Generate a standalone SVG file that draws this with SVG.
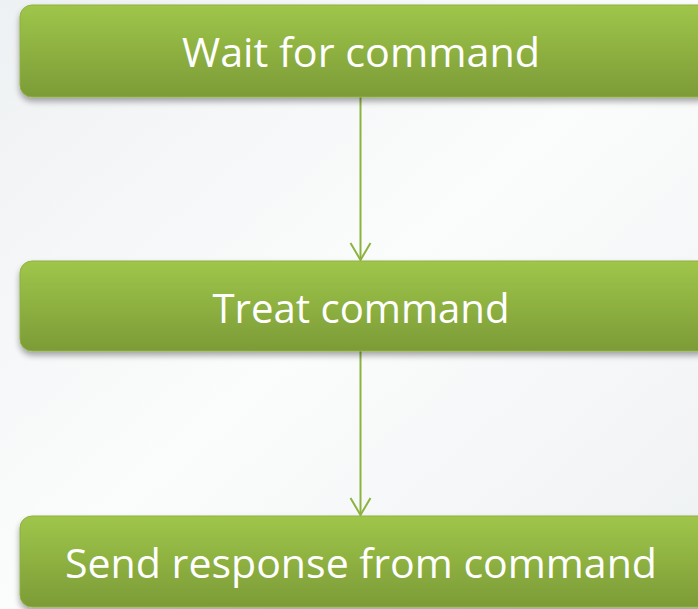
<svg xmlns="http://www.w3.org/2000/svg" width="698" height="609" viewBox="0 0 698 609">
<defs>
<linearGradient id="bg" x1="0" y1="0" x2="1" y2="1">
<stop offset="0" stop-color="#eef1f3"/>
<stop offset="0.5" stop-color="#fbfcfc"/>
<stop offset="1" stop-color="#eef1f3"/>
</linearGradient>
<linearGradient id="g" x1="0" y1="0" x2="0" y2="1">
<stop offset="0" stop-color="#9fc64a"/>
<stop offset="1" stop-color="#7c9b37"/>
</linearGradient>
<filter id="sh" x="-5%" y="-20%" width="110%" height="150%">
<feGaussianBlur in="SourceAlpha" stdDeviation="3"/>
<feOffset dx="0" dy="4" result="b"/>
<feComponentTransfer><feFuncA type="linear" slope="0.35"/></feComponentTransfer>
<feMerge><feMergeNode/><feMergeNode in="SourceGraphic"/></feMerge>
</filter>
</defs>
<style>
.box{fill:url(#g);stroke:#8fb040;stroke-width:1;filter:url(#sh)}
.lbl{font-family:"Open Sans","Liberation Sans",Arial,sans-serif;font-size:41px;fill:#ffffff;text-anchor:middle}
.con{stroke:#8db33f;stroke-width:2;fill:none}
</style>
<rect width="698" height="609" fill="url(#bg)"/>
<g id="connectors">
<path class="con" d="M360.5 97 V260"/>
<path class="con" d="M350.5 243 L360.5 260 L370.5 243"/>
<path class="con" d="M360.5 351 V515"/>
<path class="con" d="M350.5 498 L360.5 515 L370.5 498"/>
</g>
<g id="n1">
<rect class="box" x="20" y="5" width="690" height="92" rx="12"/>
<text class="lbl" x="361" y="67" textLength="358" lengthAdjust="spacingAndGlyphs">Wait for command</text>
</g>
<g id="n2">
<rect class="box" x="20" y="261" width="690" height="90" rx="12"/>
<text class="lbl" x="361" y="323" textLength="297" lengthAdjust="spacingAndGlyphs">Treat command</text>
</g>
<g id="n3">
<rect class="box" x="20" y="516" width="690" height="91" rx="12"/>
<text class="lbl" x="361" y="578" textLength="592" lengthAdjust="spacingAndGlyphs">Send response from command</text>
</g>
</svg>
